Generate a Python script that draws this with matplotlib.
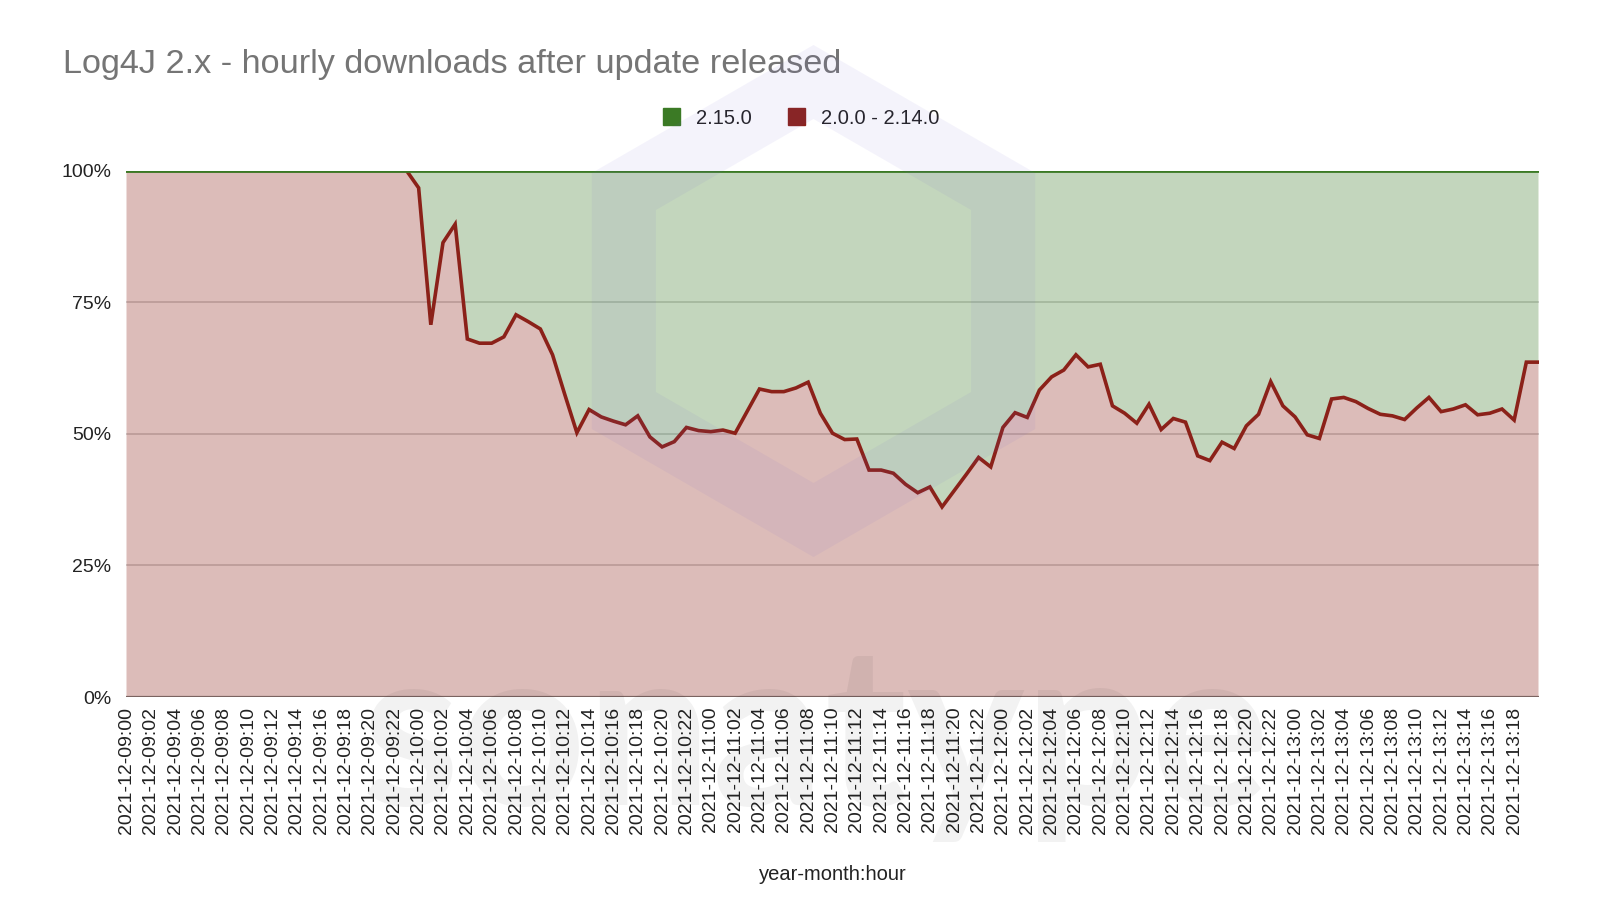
import numpy as np
import matplotlib
matplotlib.use("Agg")
from matplotlib import pyplot as plt
from matplotlib.patches import Patch, PathPatch
from matplotlib.path import Path
from matplotlib.ticker import PercentFormatter

plt.rcParams['font.family'] = ['Liberation Sans', 'DejaVu Sans']

# --- Data ----------------------------------------------------------------------

# category axis: one entry per hour, 2021-12-09:00 .. 2021-12-13:20
hour_labels = [f"2021-12-{d:02d}:{h:02d}" for d in range(9, 14) for h in range(24)][:117]

# share of downloads (%) going to the vulnerable 2.0.0 - 2.14.0 releases
old_share = [100] * 24 + [
    96.7, 70.7, 86.3, 89.8, 68.0, 67.2, 67.2, 68.4, 72.6, 71.3,
    69.9, 65.0, 57.5, 50.2, 54.6, 53.2, 52.4, 51.7, 53.4, 49.4,
    47.5, 48.5, 51.2, 50.6, 50.4, 50.7, 50.1, 54.3, 58.5, 58.0,
    58.0, 58.7, 59.8, 53.9, 50.1, 48.9, 49.0, 43.1, 43.1, 42.5,
    40.4, 38.8, 39.9, 36.1, 39.2, 42.3, 45.5, 43.7, 51.2, 54.0,
    53.1, 58.3, 60.8, 62.1, 65.0, 62.7, 63.2, 55.3, 53.9, 52.0,
    55.6, 50.8, 52.9, 52.2, 45.8, 44.9, 48.4, 47.2, 51.5, 53.7,
    59.9, 55.3, 53.2, 49.8, 49.1, 56.6, 56.9, 56.1, 54.8, 53.7,
    53.4, 52.7, 54.9, 56.9, 54.2, 54.7, 55.5, 53.6, 53.9, 54.7,
    52.6, 63.6, 63.6,
]
new_share = [100 - v for v in old_share]

series_names = ["2.15.0", "2.0.0 - 2.14.0"]
green = "#3b7a25"
red = "#8b2119"

# --- Figure --------------------------------------------------------------------

fig = plt.figure(figsize=(16, 9), dpi=100)
ax = fig.add_axes([126.5 / 1600, 1 - 697 / 900, 1412 / 1600, 526.5 / 900])

x = np.arange(len(old_share))
ax.stackplot(x, old_share, new_share, colors=[red, green], alpha=0.3, lw=0)
ax.plot(x, old_share, color=red, lw=2.6, solid_joinstyle="miter", zorder=3)
ax.plot(x, [100] * len(x), color=green, lw=2, zorder=4)
ax.axhline(0, color="#7a6360", lw=1.6, zorder=4)

ax.set_xlim(0, len(x) - 1)
ax.set_ylim(0, 100)
ax.set_yticks([0, 25, 50, 75, 100])
ax.yaxis.set_major_formatter(PercentFormatter(decimals=0))
ax.set_xticks(x[::2][:58])
ax.set_xticklabels(hour_labels[::2][:58], rotation=90)
ax.tick_params(axis="both", length=0, labelsize=14, labelcolor="#222222")
ax.tick_params(axis="x", pad=7)
ax.tick_params(axis="y", pad=11)
ax.yaxis.grid(True, color="#d2d2d2", lw=1.3)
ax.set_axisbelow(True)
for s in ax.spines.values():
    s.set_visible(False)

fig.text(63 / 1600, 1 - 72.5 / 900, "Log4J 2.x - hourly downloads after update released",
         fontsize=24.7, color="#757575", va="baseline", ha="left")
fig.text(832.5 / 1600, 1 - 875 / 900, "year-month:hour", fontsize=14.5,
         color="#222222", ha="center", va="center")

handles = [Patch(facecolor=green, edgecolor=green), Patch(facecolor=red, edgecolor=red)]
fig.legend(handles, series_names, loc="center", bbox_to_anchor=(0.5006, 1 - 118 / 900),
           ncol=2, frameon=False, fontsize=14.5, handlelength=0.85, handleheight=0.85,
           columnspacing=1.8, handletextpad=0.8, labelcolor="#222222")

# --- Watermark (hexagon ring + wordmark) ---------------------------------------

def hexagon(cx, cy, s):
    pts = []
    for a in [90, 30, -30, -90, -150, 150]:
        r = np.deg2rad(a)
        pts.append(((cx + s * np.cos(r)) / 1600, 1 - (cy - s * np.sin(r)) / 900))
    return pts

outer = hexagon(813.5, 301, 256)
inner = hexagon(813.5, 301, 182)[::-1]
verts = outer + [outer[0]] + inner + [inner[0]]
codes = ([Path.MOVETO] + [Path.LINETO] * 5 + [Path.CLOSEPOLY]) * 2
ring = PathPatch(Path(verts, codes), transform=fig.transFigure, facecolor="#6e5ad2",
                 edgecolor="none", alpha=0.07, zorder=10)
fig.patches.append(ring)

fig.text(816 / 1600, 1 - 805 / 900, "sonatype", fontsize=160, family="Lato",
         fontweight="bold", color="#000000", alpha=0.05, ha="center", va="baseline",
         zorder=10)

fig.savefig("out.png", dpi=100)
